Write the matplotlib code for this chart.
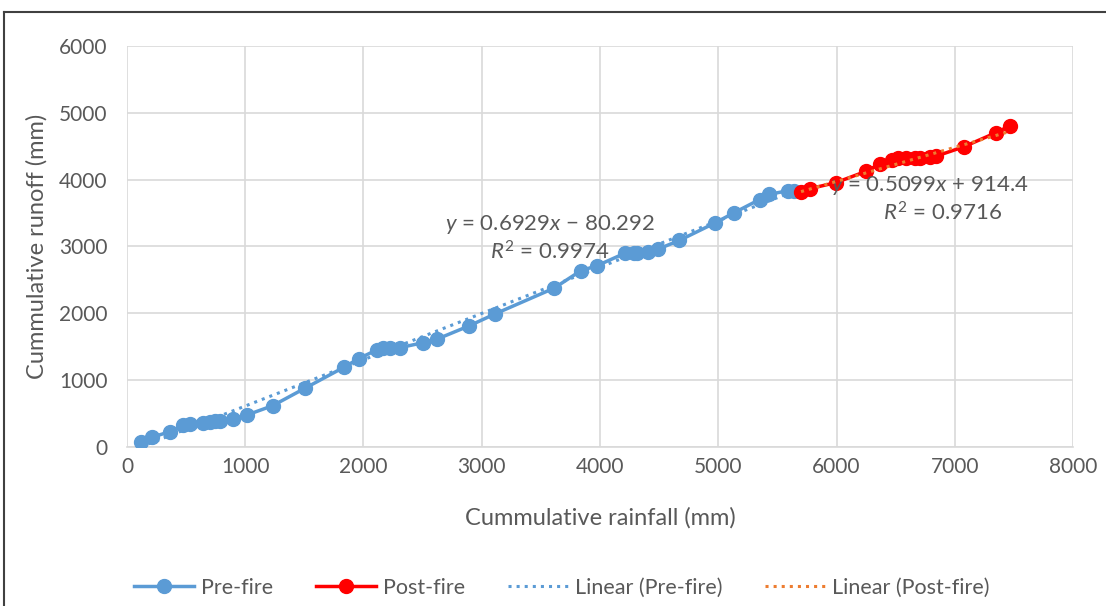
import matplotlib
matplotlib.use("Agg")
import matplotlib.pyplot as plt
from matplotlib.lines import Line2D
import numpy as np

plt.rcParams['font.family'] = ['Lato', 'DejaVu Sans']
plt.rcParams['mathtext.fontset'] = 'custom'
plt.rcParams['mathtext.rm'] = 'Lato'
plt.rcParams['mathtext.it'] = 'Lato:italic'

# cumulative rainfall / runoff (mm)
pre_rain = [120, 209, 364, 476, 533, 643, 702, 744, 786, 899, 1015, 1232, 1505,
            1835, 1959, 2112, 2165, 2224, 2309, 2506, 2619, 2892, 3112, 3611,
            3839, 3972, 4211, 4290, 4310, 4406, 4490, 4670, 4970, 5137, 5350,
            5430, 5590, 5640]
pre_runoff = [75, 145, 229, 329, 344, 364, 379, 394, 394, 415, 479, 618, 879,
              1193, 1322, 1452, 1482, 1482, 1487, 1561, 1612, 1811, 1991, 2376,
              2639, 2710, 2900, 2905, 2909, 2924, 2960, 3090, 3350, 3508, 3703,
              3780, 3835, 3837]

post_rain = [5700, 5776, 5995, 6250, 6368, 6470, 6520, 6590, 6660, 6710, 6790,
             6840, 7075, 7345, 7465]
post_runoff = [3822, 3866, 3956, 4125, 4237, 4300, 4326, 4326, 4326, 4326, 4341,
               4350, 4491, 4700, 4805]

# trendline coefficients shown on the chart
pre_fit = (0.6929, -80.292, 0.9974)
post_fit = (0.5099, 914.4, 0.9716)

blue = '#5B9BD5'
red = '#FF0000'
orange = '#ED7D31'
grey = '#595959'

fig = plt.figure(figsize=(11.06, 6.06), dpi=100)
ax = fig.add_axes([0.1148, 0.2624, 0.8554, 0.6617])

ax.plot(pre_rain, pre_runoff, '-o', color=blue, lw=2.5, ms=10, zorder=3, label='Pre-fire')
ax.plot(post_rain, post_runoff, '-o', color=red, lw=2.5, ms=10, zorder=3, label='Post-fire')

xs = np.array([min(pre_rain), max(pre_rain)])
ax.plot(xs, pre_fit[0] * xs + pre_fit[1], ':', color=blue, lw=2.2, zorder=4,
        label='Linear (Pre-fire)')
xs = np.array([min(post_rain), max(post_rain)])
ax.plot(xs, post_fit[0] * xs + post_fit[1], ':', color=orange, lw=2.2, zorder=4,
        label='Linear (Post-fire)')

ax.set_xlim(0, 8000)
ax.set_ylim(0, 6000)
ax.set_xticks(range(0, 8001, 1000))
ax.set_yticks(range(0, 6001, 1000))
ax.grid(True, color='#D9D9D9', lw=1.2)
ax.set_axisbelow(True)
for s in ['top', 'right', 'left']:
    ax.spines[s].set_visible(False)
ax.spines['bottom'].set_color('#D9D9D9')
ax.spines['bottom'].set_linewidth(1.2)
ax.tick_params(length=0, labelsize=15, colors=grey)
ax.tick_params(axis='y', pad=14)
ax.tick_params(axis='x', pad=7)

ax.set_xlabel('Cummulative rainfall (mm)', fontsize=17, color=grey, labelpad=22)
ax.set_ylabel('Cummulative runoff (mm)', fontsize=17, color=grey, labelpad=8)

ax.text(3577, 3323, r'$\mathit{y}$ = 0.6929$\mathit{x}$ − 80.292', fontsize=16,
        color=grey, ha='center', va='center')
ax.text(3577, 2919, r'$\mathit{R}^2$ = 0.9974', fontsize=16, color=grey,
        ha='center', va='center')
ax.text(6791, 3907, r'$\mathit{y}$ = 0.5099$\mathit{x}$ + 914.4', fontsize=16,
        color=grey, ha='center', va='center')
ax.text(6900, 3500, r'$\mathit{R}^2$ = 0.9716', fontsize=16, color=grey,
        ha='center', va='center')

leg = fig.legend(loc='center', bbox_to_anchor=(0.508, 0.03), ncol=4, frameon=False,
                 fontsize=15.5, handlelength=2.8, columnspacing=2.0, handletextpad=0.3)
for t in leg.get_texts():
    t.set_color(grey)

# outer chart border (cropped at right and bottom)
fig.add_artist(Line2D([4 / 1106, 1], [1 - 12 / 606] * 2, color='#404040', lw=1.5))
fig.add_artist(Line2D([4 / 1106] * 2, [0, 1 - 12 / 606], color='#404040', lw=1.5))

fig.savefig('out.png', dpi=100)
